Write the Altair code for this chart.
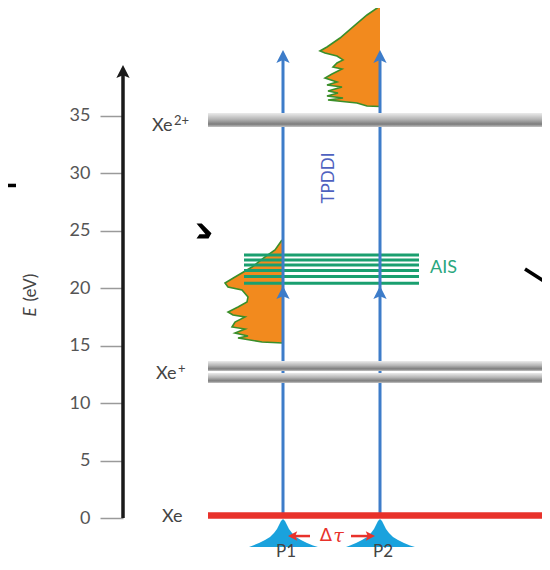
import altair as alt
import pandas as pd

# ---------------- data ----------------
tick_values = [0, 5, 10, 15, 20, 25, 30, 35]
level_base = ["Xe", "Xe", "Xe"]
level_sup = ["", "+", "2+"]
level_label_energy = [0.1, 12.5, 34.1]
ground_energy = 0.0
cation_bands_lo = [11.75, 12.79]
cation_bands_hi = [12.62, 13.66]
dication_band_lo = [34.02]
dication_band_hi = [35.24]
ais_energies = [20.42, 21.01, 21.53, 22.01, 22.45, 22.88]
pulse_names = ["P1", "P2"]
pulse_positions = [283, 380]
arrow_tip_energy = 40.72
mid_arrow_energy = 20.18

# electron spectra: energy (eV) and intensity (diagram units)
spec_low_E = [24.19, 23.32, 22.71, 21.84, 20.97, 20.45, 20.10, 19.84, 19.23, 18.79, 18.36,
              17.92, 17.66, 17.49, 17.05, 16.62, 16.44, 16.10, 15.83, 15.66, 15.31, 15.22]
spec_low_I = [1, 8, 18, 31, 48, 58, 55, 41, 35, 36, 45, 55, 50, 38, 48, 51, 38, 48, 35, 45, 21, 0]
spec_high_E = [44.54, 43.76, 42.72, 41.76, 40.98, 40.63, 40.46, 40.19, 39.85, 39.59, 39.24, 39.06,
               38.63, 38.28, 37.93, 37.67, 37.50, 37.15, 36.98, 36.72, 36.54, 36.37, 36.11, 35.85, 35.80]
spec_high_I = [0, 13, 27, 40, 53, 60, 55, 43, 37, 43, 47, 38, 48, 55, 43, 53, 38, 52, 42, 53, 37, 52, 23, 13, 0]

# pulse envelope: offset (diagram units) and height (eV units)
pulse_dx = [-34, -30, -24, -18, -13, -9, -6, -4, -2, 0, 2, 4, 6, 9, 13, 18, 24, 30, 35]
pulse_h = [0, 0.13, 0.35, 0.61, 0.87, 1.22, 1.57, 1.91, 2.26, 2.44, 2.26, 1.91, 1.57, 1.22, 0.87, 0.61, 0.35, 0.13, 0]
pulse_base = -2.52

# ---------------- styling / layout ----------------
BLUE = "#3d7cc9"
ORANGE = "#f28a1e"
GREEN_OUT = "#3a8f2a"
GREEN = "#1a9f6f"
RED = "#e8322b"
CYAN = "#1aa2dd"
FONT = "Lato"

XS = alt.Scale(domain=[123, 542], range=[0, 419], nice=False, zero=False)
YS = alt.Scale(domain=[0, 35], range=[510, 107.7], nice=False, zero=False)
YAX = alt.Axis(values=tick_values, title=None, domain=False, grid=False, tickSize=23,
               tickColor="#9a9a9a", tickWidth=1.5, labelFontSize=18, labelColor="#555555",
               labelFont=FONT, labelPadding=10)


def X(f):
    return alt.X(f"{f}:Q", scale=XS, axis=None)


def Y(f):
    return alt.Y(f"{f}:Q", scale=YS, axis=YAX)


ARROW_UP = "M0,-1 L0.95,0.85 L0,0.45 L-0.95,0.85 Z"
ARROW_LEFT = "M-1,0 L0.85,-0.95 L0.45,0 L0.85,0.95 Z"
ARROW_RIGHT = "M1,0 L-0.85,-0.95 L-0.45,0 L-0.85,0.95 Z"

layers = []

# spectra
for pos, Es, Is in [(pulse_positions[0], spec_low_E, spec_low_I),
                    (pulse_positions[1], spec_high_E, spec_high_I)]:
    d = pd.DataFrame({"E": Es, "I": Is})
    d["x"] = pos - d["I"]
    d["x2"] = pos
    d["i"] = range(len(d))
    layers.append(alt.Chart(d).mark_area(orient="horizontal", color=ORANGE, opacity=1)
                  .encode(y=Y("E"), x=X("x"), x2=alt.X2("x2")))
    layers.append(alt.Chart(d).mark_line(color=GREEN_OUT, strokeWidth=1.6)
                  .encode(x=X("x"), y=Y("E"), order=alt.Order("i:Q")))

# AIS lines
ais = pd.DataFrame({"E": ais_energies})
ais["x"] = 244
ais["x2"] = 419
layers.append(alt.Chart(ais).mark_rule(color=GREEN, strokeWidth=3)
              .encode(x=X("x"), x2=alt.X2("x2"), y=Y("E")))

# blue photon arrows
arr = pd.DataFrame({"x": pulse_positions})
arr["E0"] = ground_energy
arr["E1"] = arrow_tip_energy - 0.4
layers.append(alt.Chart(arr).mark_rule(color=BLUE, strokeWidth=3)
              .encode(x=X("x"), y=Y("E0"), y2=alt.Y2("E1")))
heads = pd.DataFrame({"x": pulse_positions * 2,
                      "E": [arrow_tip_energy] * 2 + [mid_arrow_energy] * 2})
layers.append(alt.Chart(heads).mark_point(shape=ARROW_UP, filled=True, size=196, color=BLUE,
                                          opacity=1, yOffset=7)
              .encode(x=X("x"), y=Y("E")))

# gray bands (Xe+ and Xe2+)
grad = alt.Gradient(gradient="linear", x1=0, x2=0, y1=0, y2=1,
                    stops=[alt.GradientStop(color="#ececec", offset=0),
                           alt.GradientStop(color="#b5b5b5", offset=0.45),
                           alt.GradientStop(color="#7c7c7c", offset=0.8),
                           alt.GradientStop(color="#c4c4c4", offset=1)])
bands = pd.DataFrame({"lo": cation_bands_lo + dication_band_lo,
                      "hi": cation_bands_hi + dication_band_hi})
bands["x"] = 208
bands["x2"] = 550
layers.append(alt.Chart(bands).mark_rect(color=grad)
              .encode(x=X("x"), x2=alt.X2("x2"), y=Y("hi"), y2=alt.Y2("lo")))

# pulses
prow = []
for name, pos in zip(pulse_names, pulse_positions):
    for dx, h in zip(pulse_dx, pulse_h):
        prow.append({"p": name, "x": pos + dx, "y": pulse_base + h, "y2": pulse_base})
pdf = pd.DataFrame(prow)
layers.append(alt.Chart(pdf).mark_area(color=CYAN, opacity=1)
              .encode(x=X("x"), y=Y("y"), y2=alt.Y2("y2"), detail="p:N"))

# ground state red line
gnd = pd.DataFrame({"E": [ground_energy], "x": [208], "x2": [550]})
layers.append(alt.Chart(gnd).mark_rule(color=RED, strokeWidth=6.5, yOffset=-2.5)
              .encode(x=X("x"), x2=alt.X2("x2"), y=Y("E")))

# level labels (base text + raised charge)
lab = pd.DataFrame({"t": level_base, "s": level_sup, "E": level_label_energy})
lab["x"] = [162, 156, 152]
lab["xs"] = lab["x"] + 22
layers.append(alt.Chart(lab).mark_text(font=FONT, fontSize=18, color="#444444", align="left",
                                       baseline="middle")
              .encode(x=X("x"), y=Y("E"), text="t:N"))
layers.append(alt.Chart(lab[lab.s != ""]).mark_text(font=FONT, fontSize=13, color="#444444",
                                                    align="left", baseline="middle", yOffset=-5)
              .encode(x=X("xs"), y=Y("E"), text="s:N"))

# TPDDI and AIS labels
t1 = pd.DataFrame({"t": ["TPDDI"], "x": [329], "E": [29.58]})
layers.append(alt.Chart(t1).mark_text(font=FONT, fontSize=17, color="#4f62c0", angle=270,
                                      align="center", baseline="middle")
              .encode(x=X("x"), y=Y("E"), text="t:N"))
t2 = pd.DataFrame({"t": ["AIS"], "x": [430], "E": [21.75]})
layers.append(alt.Chart(t2).mark_text(font=FONT, fontSize=18, color="#2aa77e", align="left",
                                      baseline="middle")
              .encode(x=X("x"), y=Y("E"), text="t:N"))

# pulse labels
pl = pd.DataFrame({"t": pulse_names, "x": [p + 3 for p in pulse_positions], "E": [-3.72, -3.72]})
layers.append(alt.Chart(pl).mark_text(font=FONT, fontSize=17, color="#444444", align="center",
                                      baseline="bottom")
              .encode(x=X("x"), y=Y("E"), text="t:N"))

# delay label and arrows
dt_up = pd.DataFrame({"t": ["Δ"], "x": [326], "E": [-1.57]})
dt_it = pd.DataFrame({"t": ["τ"], "x": [338.5], "E": [-1.57]})
layers.append(alt.Chart(dt_up).mark_text(font="DejaVu Sans", fontSize=18, color=RED,
                                         align="center", baseline="middle")
              .encode(x=X("x"), y=Y("E"), text="t:N"))
layers.append(alt.Chart(dt_it).mark_text(font="DejaVu Serif", fontSize=19, color=RED,
                                         fontStyle="italic", align="center", baseline="middle")
              .encode(x=X("x"), y=Y("E"), text="t:N"))
dl = pd.DataFrame({"x": [291, 351], "x2": [310, 371], "E": [-1.57, -1.57]})
layers.append(alt.Chart(dl).mark_rule(color=RED, strokeWidth=2.5)
              .encode(x=X("x"), x2=alt.X2("x2"), y=Y("E")))
dhl = pd.DataFrame({"x": [288], "E": [-1.57]})
layers.append(alt.Chart(dhl).mark_point(shape=ARROW_LEFT, filled=True, size=100, color=RED, opacity=1,
                                        xOffset=5)
              .encode(x=X("x"), y=Y("E")))
dhr = pd.DataFrame({"x": [375], "E": [-1.57]})
layers.append(alt.Chart(dhr).mark_point(shape=ARROW_RIGHT, filled=True, size=100, color=RED, opacity=1,
                                        xOffset=-5)
              .encode(x=X("x"), y=Y("E")))

# energy axis line with arrow
ax = pd.DataFrame({"x": [123], "E0": [0.0], "E1": [38.9]})
layers.append(alt.Chart(ax).mark_rule(color="#1a1a1a", strokeWidth=3.5)
              .encode(x=X("x"), y=Y("E0"), y2=alt.Y2("E1")))
axh = pd.DataFrame({"x": [123], "E": [39.41]})
layers.append(alt.Chart(axh).mark_point(shape=ARROW_UP, filled=True, size=196, color="#1a1a1a",
                                        opacity=1, yOffset=7)
              .encode(x=X("x"), y=Y("E")))

# axis title (E italic, (eV) upright)
at1 = pd.DataFrame({"t": ["E"], "x": [31], "E": [17.92]})
layers.append(alt.Chart(at1).mark_text(font=FONT, fontSize=17, color="#444444", fontStyle="italic",
                                       angle=270, align="center", baseline="middle")
              .encode(x=X("x"), y=Y("E"), text="t:N"))
at2 = pd.DataFrame({"t": ["(eV)"], "x": [31], "E": [20.05]})
layers.append(alt.Chart(at2).mark_text(font=FONT, fontSize=17, color="#444444",
                                       angle=270, align="center", baseline="middle")
              .encode(x=X("x"), y=Y("E"), text="t:N"))

# stray black strokes at the crop edges
s1 = pd.DataFrame({"x": [0, 525], "x2": [16, 550], "E": [28.93, 21.66], "E2": [28.93, 20.27]})
layers.append(alt.Chart(s1).mark_rule(color="black", strokeWidth=3.5)
              .encode(x=X("x"), x2=alt.X2("x2"), y=Y("E"), y2=alt.Y2("E2")))
s2 = pd.DataFrame({"x": [204], "E": [24.97]})
layers.append(alt.Chart(s2).mark_point(shape="M-1,-1 L-0.3,-1 L1,0.3 L0.6,1 L-1,1 L-0.6,0.45 L0.2,0.45 Z",
                                       filled=True, size=225, color="black", opacity=1)
              .encode(x=X("x"), y=Y("E")))

chart = alt.layer(*layers).properties(
    width=419, height=554,
    padding={"left": 115, "top": 0, "right": 0, "bottom": 0},
    autosize=alt.AutoSizeParams(type="none"),
    background="white",
).configure_view(stroke=None)

chart.save("out.html", embed_options={"renderer": "svg", "actions": False})
